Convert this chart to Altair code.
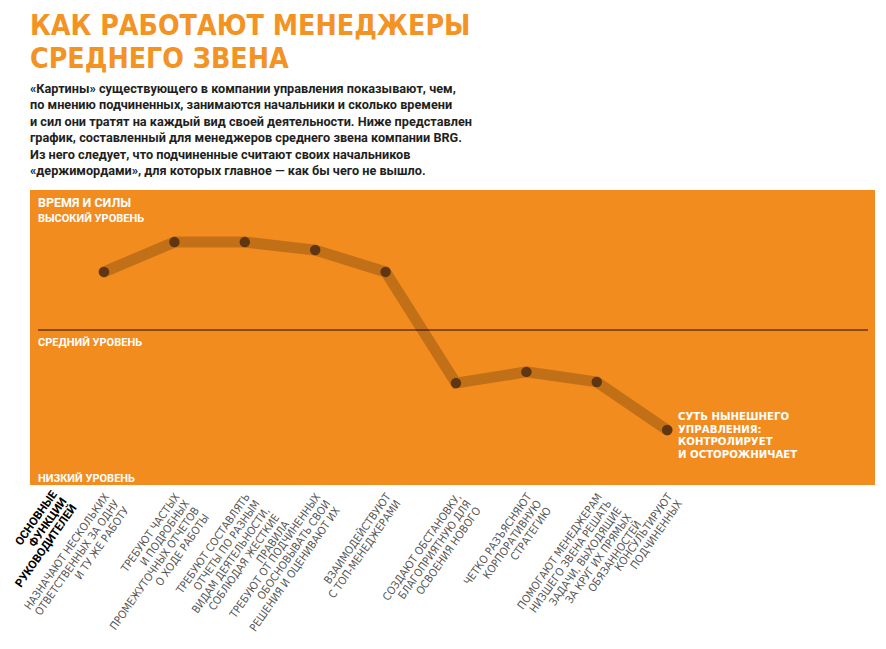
import altair as alt
import pandas as pd

# ---- data ----
functions = [
    "НАЗНАЧАЮТ НЕСКОЛЬКИХ\nОТВЕТСТВЕННЫХ ЗА ОДНУ\nИ ТУ ЖЕ РАБОТУ",
    "ТРЕБУЮТ ЧАСТЫХ\nИ ПОДРОБНЫХ\nПРОМЕЖУТОЧНЫХ ОТЧЕТОВ\nО ХОДЕ РАБОТЫ",
    "ТРЕБУЮТ СОСТАВЛЯТЬ\nОТЧЕТЫ ПО РАЗНЫМ\nВИДАМ ДЕЯТЕЛЬНОСТИ,\nСОБЛЮДАЯ ЖЕСТКИЕ\nПРАВИЛА",
    "ТРЕБУЮТ ОТ ПОДЧИНЕННЫХ\nОБОСНОВЫВАТЬ СВОИ\nРЕШЕНИЯ И ОЦЕНИВАЮТ ИХ",
    "ВЗАИМОДЕЙСТВУЮТ\nС ТОП-МЕНЕДЖЕРАМИ",
    "СОЗДАЮТ ОБСТАНОВКУ,\nБЛАГОПРИЯТНУЮ ДЛЯ\nОСВОЕНИЯ НОВОГО",
    "ЧЕТКО РАЗЪЯСНЯЮТ\nКОРПОРАТИВНУЮ\nСТРАТЕГИЮ",
    "ПОМОГАЮТ МЕНЕДЖЕРАМ\nНИЗШЕГО ЗВЕНА РЕШАТЬ\nЗАДАЧИ, ВЫХОДЯЩИЕ\nЗА КРУГ ИХ ПРЯМЫХ\nОБЯЗАННОСТЕЙ",
    "КОНСУЛЬТИРУЮТ\nПОДЧИНЕННЫХ",
]
effort = [1.97, 2.98, 2.98, 2.71, 1.97, -1.80, -1.42, -1.76, -3.39]
middle_level = [0]

title_text = "КАК РАБОТАЮТ МЕНЕДЖЕРЫ\nСРЕДНЕГО ЗВЕНА"
lead_text = (
    "«Картины» существующего в компании управления показывают, чем,\n"
    "по мнению подчиненных, занимаются начальники и сколько времени\n"
    "и сил они тратят на каждый вид своей деятельности. Ниже представлен\n"
    "график, составленный для менеджеров среднего звена компании BRG.\n"
    "Из него следует, что подчиненные считают своих начальников\n"
    "«держимордами», для которых главное — как бы чего не вышло."
)
axis_title = "ВРЕМЯ И СИЛЫ"
level_high = "ВЫСОКИЙ УРОВЕНЬ"
level_mid = "СРЕДНИЙ УРОВЕНЬ"
level_low = "НИЗКИЙ УРОВЕНЬ"
x_header = "ОСНОВНЫЕ\nФУНКЦИИ\nРУКОВОДИТЕЛЕЙ"
note_text = "СУТЬ НЫНЕШНЕГО\nУПРАВЛЕНИЯ:\nКОНТРОЛИРУЕТ\nИ  ОСТОРОЖНИЧАЕТ"

df = pd.DataFrame({"i": list(range(len(functions))), "func": functions, "v": effort})
mid_df = pd.DataFrame({"v": middle_level})
one = pd.DataFrame({"k": [0]})

ORANGE = "#F38C1F"
TITLE_ORANGE = "#F39324"
NARROW = "DejaVu Sans Condensed, Liberation Sans Narrow, Roboto, sans-serif"

W, H = 845, 295
xs = alt.Scale(domain=[-1.051, 10.952], nice=False, zero=False)
ys = alt.Scale(domain=[-5.254, 4.746], nice=False, zero=False)

X = alt.X("i:Q", scale=xs, axis=None)
Y = alt.Y("v:Q", scale=ys, axis=None)

rule = alt.Chart(mid_df).mark_rule(color="#8B4A12", strokeWidth=2).encode(
    y=Y, x=alt.value(8), x2=alt.value(838)
)
line = alt.Chart(df).mark_line(color="#000000", opacity=0.2, strokeWidth=11, strokeCap="round").encode(
    x=X, y=Y
)
points = alt.Chart(df).mark_circle(color="#5f360f", opacity=1, size=110).encode(x=X, y=Y)
labels = alt.Chart(df).mark_text(
    align="right", baseline="top", angle=305, lineBreak="\n", lineHeight=12,
    font=NARROW, fontSize=11, color="#555555", dx=-3
).encode(x=X, y=alt.value(H + 4), text="func:N")


def txt(text, x, y, size, color, font="Roboto", weight="bold", lh=None, **kw):
    params = dict(align="left", baseline="alphabetic", font=font, fontSize=size,
                  fontWeight=weight, color=color, lineBreak="\n")
    if lh is not None:
        params["lineHeight"] = lh
    params.update(kw)
    return alt.Chart(one).mark_text(**params).encode(
        x=alt.value(x), y=alt.value(y), text=alt.value(text)
    )


title = txt(title_text, 0, -155, 28.3, TITLE_ORANGE, font=NARROW, weight="bold", lh=33)
lead = txt(lead_text, 0, -97, 12.7, "#231f20", font="Roboto", weight="bold", lh=16.4)
t_axis = txt(axis_title, 8, 17, 12.5, "white")
t_high = txt(level_high, 8, 32, 11, "white")
t_mid = txt(level_mid, 8, 156, 11, "white")
t_low = txt(level_low, 8, 292, 11, "white")
t_note = txt(note_text, 648, 230, 11.3, "white", font=NARROW, lh=12.5)
t_head = alt.Chart(one).mark_text(
    align="right", baseline="top", angle=305, lineBreak="\n", lineHeight=12,
    font="Roboto", fontSize=11.5, fontWeight="bold", color="#000000"
).encode(x=alt.value(20), y=alt.value(H + 4), text=alt.value(x_header))

chart = alt.layer(
    rule, line, points, labels, title, lead, t_axis, t_high, t_mid, t_low, t_note, t_head
).properties(
    width=W, height=H,
    autosize=alt.AutoSizeParams(type="none"),
    padding={"left": 22, "top": 182, "right": 3, "bottom": 150},
    background="white",
).configure_view(fill=ORANGE, strokeWidth=0)

chart.save("out.html", embed_options={"renderer": "svg", "actions": False})
